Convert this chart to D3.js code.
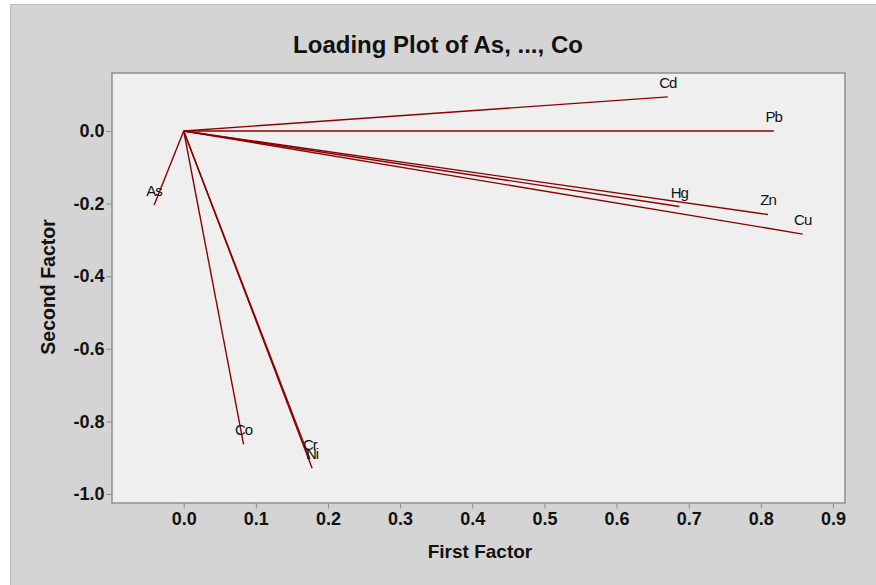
<!DOCTYPE html>
<html>
<head>
<meta charset="utf-8">
<title>Loading Plot</title>
<script src="https://cdn.jsdelivr.net/npm/d3@7/dist/d3.min.js"></script>
<style>
    body { margin: 0; background: #ffffff; }
    svg { display: block; }
    .tick text { font-family: "Liberation Sans", Arial, sans-serif; font-weight: bold; font-size: 18px; fill: #111; }
    .tick line { stroke: #8c8c8c; }
    .domain { display: none; }
</style>
</head>
<body>
<svg id="mainsvg" width="876" height="585"></svg>
<script>
    // loadings
    const elements = ['As', 'Cd', 'Cu', 'Hg', 'Pb', 'Zn', 'Cr', 'Ni', 'Co'];
    const factor1 = [-0.041, 0.671, 0.858, 0.687, 0.818, 0.810, 0.175, 0.178, 0.083];
    const factor2 = [-0.204, 0.094, -0.284, -0.208, 0.000, -0.230, -0.904, -0.929, -0.863];
    const xTicks = [0.0, 0.1, 0.2, 0.3, 0.4, 0.5, 0.6, 0.7, 0.8, 0.9];
    const yTicks = [0.0, -0.2, -0.4, -0.6, -0.8, -1.0];

    const svg = d3.select('#mainsvg');
    const plot = { left: 112, right: 845, top: 73, bottom: 503 };
    const fmt = d => d3.format('.1f')(d).replace('\u2212', '-');

    // outer frame
    svg.append('rect').attr('x', 10.5).attr('y', 4.5).attr('width', 880).attr('height', 600)
        .attr('fill', '#d4d4d4').attr('stroke', '#bcbcbc').attr('stroke-width', 1);

    const xScale = d3.scaleLinear().domain([-0.0994, 0.9167]).range([plot.left, plot.right]);
    const yScale = d3.scaleLinear().domain([-1.0248, 0.1598]).range([plot.bottom, plot.top]);

    svg.append('rect')
        .attr('x', plot.left).attr('y', plot.top)
        .attr('width', plot.right - plot.left).attr('height', plot.bottom - plot.top)
        .attr('fill', '#efefef').attr('stroke', '#8f8f8f').attr('stroke-width', 1.5);

    const xAxis = d3.axisBottom(xScale).tickValues(xTicks).tickFormat(fmt)
        .tickSizeInner(5).tickSizeOuter(0).tickPadding(4);
    svg.append('g').attr('transform', `translate(0, ${plot.bottom + 0.5})`).call(xAxis);

    const yAxis = d3.axisLeft(yScale).tickValues(yTicks).tickFormat(fmt)
        .tickSizeInner(5).tickSizeOuter(0).tickPadding(2);
    svg.append('g').attr('transform', `translate(${plot.left - 0.5}, 0)`).call(yAxis);

    const data = elements.map((e, i) => ({ name: e, x: factor1[i], y: factor2[i] }));

    svg.append('g').selectAll('line').data(data).join('line')
        .attr('x1', xScale(0)).attr('y1', yScale(0))
        .attr('x2', d => xScale(d.x)).attr('y2', d => yScale(d.y))
        .attr('stroke', '#8b0000').attr('stroke-width', 1.4);

    svg.append('g').selectAll('text').data(data).join('text')
        .attr('x', d => xScale(d.x)).attr('y', d => yScale(d.y) - 9)
        .attr('text-anchor', 'middle')
        .attr('font-family', '"Liberation Sans", Arial, sans-serif')
        .attr('font-size', 15).attr('letter-spacing', -1).attr('fill', '#111')
        .text(d => d.name);

    // title and axis labels
    svg.append('text').attr('x', 438).attr('y', 53).attr('text-anchor', 'middle')
        .attr('font-family', '"Liberation Sans", Arial, sans-serif').attr('font-weight', 'bold')
        .attr('font-size', 24).attr('fill', '#111').text('Loading Plot of As, ..., Co');

    svg.append('text').attr('x', 480).attr('y', 558).attr('text-anchor', 'middle')
        .attr('font-family', '"Liberation Sans", Arial, sans-serif').attr('font-weight', 'bold')
        .attr('font-size', 19).attr('fill', '#111').text('First Factor');

    svg.append('text').attr('transform', 'translate(55, 287) rotate(-90)').attr('text-anchor', 'middle')
        .attr('font-family', '"Liberation Sans", Arial, sans-serif').attr('font-weight', 'bold')
        .attr('font-size', 19.5).attr('fill', '#111').text('Second Factor');
</script>
</body>
</html>
